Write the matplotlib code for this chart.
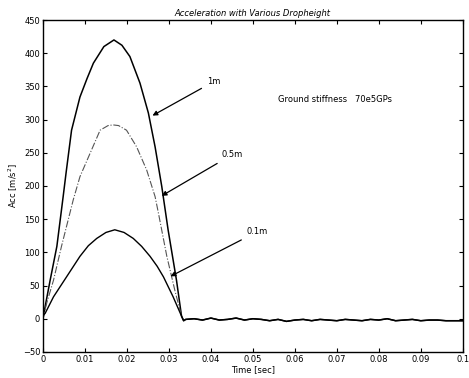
import numpy as np
import matplotlib.pyplot as plt

# time [sec] / acceleration
t_1m = [0, 0.0005, 0.0017, 0.0033, 0.0048, 0.0055, 0.0068, 0.0088, 0.0105, 0.012, 0.0145,
        0.0169, 0.0188, 0.0207, 0.0231, 0.0251, 0.0267, 0.0283, 0.0298, 0.0318, 0.033]
a_1m = [0, 18, 58, 109, 184, 220, 284, 334, 362, 385, 410, 420, 412, 395, 355, 310, 259,
        199, 134, 58, 4]

t_05m = [0, 0.0009, 0.0025, 0.0044, 0.0072, 0.0088, 0.0112, 0.0136, 0.0155, 0.0167, 0.018,
         0.0199, 0.0223, 0.0247, 0.0267, 0.0275, 0.0295, 0.0314, 0.033]
a_05m = [0, 24, 58, 109, 179, 214, 249, 284, 291, 292, 291, 284, 259, 224, 184, 159, 94,
         43, 4]

t_01m = [0, 0.0005, 0.0025, 0.0056, 0.0088, 0.0108, 0.0128, 0.015, 0.0171, 0.0193, 0.0215,
         0.0235, 0.0255, 0.0272, 0.0287, 0.031, 0.033]
a_01m = [5, 8, 33, 63, 94, 110, 121, 130, 134, 130, 121, 109, 94, 79, 63, 33, 4]

# common tail after impact
t_tail = [0.033, 0.0335, 0.034, 0.036, 0.038, 0.040, 0.042, 0.044, 0.046, 0.048, 0.050,
          0.052, 0.054, 0.056, 0.058, 0.060, 0.062, 0.064, 0.066, 0.068, 0.070, 0.072,
          0.074, 0.076, 0.078, 0.080, 0.082, 0.084, 0.086, 0.088, 0.090, 0.092, 0.094,
          0.096, 0.098, 0.100]
a_tail = [4, -3, -1, 0, -2, 1, -2, -1, 1, -2, 0, -1, -3, -1, -4, -2, -1, -3, -1, -2, -3,
          -1, -2, -3, -1, -2, 0, -3, -2, -1, -3, -2, -2, -3, -3, -3]

fig = plt.figure(figsize=(4.69, 3.78), dpi=100)
ax = fig.add_axes([0.0917, 0.069, 0.895, 0.878])

ax.plot(t_1m + t_tail[1:], a_1m + a_tail[1:], color='black', lw=1.1)
ax.plot(t_05m, a_05m, color='#555555', lw=0.8, ls='-.')
ax.plot(t_01m + t_tail[1:], a_01m + a_tail[1:], color='black', lw=1.0)

ax.set_xlim(0, 0.1)
ax.set_ylim(-50, 450)
ax.set_xticks(np.arange(0, 0.101, 0.01))
ax.set_xticklabels(['0', '0.01', '0.02', '0.03', '0.04', '0.05', '0.06', '0.07', '0.08',
                    '0.09', '0.1'])
ax.set_yticks(np.arange(-50, 451, 50))
ax.tick_params(direction='in', top=True, right=True, labelsize=6, length=3, pad=2)
for s in ax.spines.values():
    s.set_linewidth(1.0)

ax.set_title('Acceleration with Various Dropheight', fontsize=6, style='italic', pad=3)
ax.set_xlabel('Time [sec]', fontsize=6, labelpad=1)
ax.set_ylabel('Acc [m/s$^2$]', fontsize=6, labelpad=2)

arrow = dict(arrowstyle='-|>', color='black', lw=0.9, mutation_scale=7)
ax.annotate('1m', xy=(0.0255, 304), xytext=(0.039, 357), fontsize=6,
            va='center', arrowprops=arrow)
ax.annotate('0.5m', xy=(0.0277, 183), xytext=(0.0425, 247), fontsize=6,
            va='center', arrowprops=arrow)
ax.annotate('0.1m', xy=(0.0298, 62), xytext=(0.0485, 131), fontsize=6,
            va='center', arrowprops=arrow)
ax.text(0.056, 330, 'Ground stiffness   70e5GPs', fontsize=6, va='center')

fig.savefig('out.png', dpi=100)
